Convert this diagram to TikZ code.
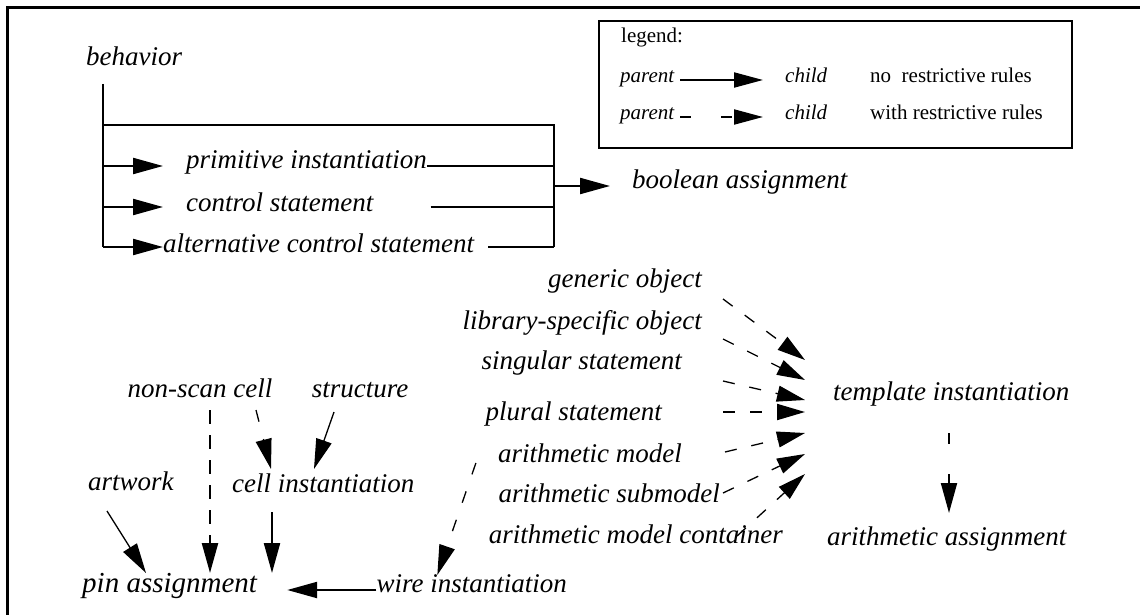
\documentclass[tikz,border=0pt]{standalone}
\usepackage{fontspec}
\setmainfont{Liberation Serif}
\usetikzlibrary{arrows.meta,calc}
\begin{document}
\begin{tikzpicture}[x=1pt,y=-1pt,
  lbl/.style={font=\fontsize{27}{30}\selectfont\itshape, inner sep=0pt},
  leg/.style={font=\fontsize{21}{24}\selectfont, inner sep=0pt},
  legi/.style={font=\fontsize{21}{24}\selectfont\itshape, inner sep=0pt},
  tri/.style={-{Triangle[length=30pt,width=16pt]}},
  ltri/.style={-{Triangle[length=29pt,width=15pt]}},
  bar/.style={line width=2.2pt},
  thinl/.style={line width=1.3pt},
  fan/.style={line width=1.3pt, dash pattern=on 12pt off 15pt, -{Triangle[length=28pt,width=16pt]}},
  sparse/.style={line width=2pt, dash pattern=on 11pt off 30pt},
  longdash/.style={line width=2.4pt, dash pattern=on 14pt off 11pt},
  thindash/.style={line width=1.3pt, dash pattern=on 12pt off 18pt},
]
\useasboundingbox (0,0) rectangle (1140,615);
\fill[white] (0,0) rectangle (1140,615);
% frame
\draw[line width=3.3pt] (7.5,615) -- (7.5,7.5) -- (1140,7.5);

% legend
\draw[line width=2pt] (599,21) rectangle (1072,148);
\node[leg, anchor=mid west] (legt) at (621,40) {legend:};
\node[legi, anchor=mid west] (p1) at (620,80) {parent};
\node[legi, anchor=mid west] (c1) at (785,80) {child};
\node[leg, anchor=mid west] (r1) at (870,80) {no\ \ restrictive rules};
\node[legi, anchor=mid west] (p2) at (620,117) {parent};
\node[legi, anchor=mid west] (c2) at (785,117) {child};
\node[leg, anchor=mid west] (r2) at (870,117) {with restrictive rules};
\draw[line width=2pt, ltri] ($(p1.mid east)+(6,0)$) -- ($(c1.mid west)+(-22,0)$);
\draw[sparse, ltri] ($(p2.mid east)+(6,0)$) -- ($(c2.mid west)+(-22,0)$);

% upper bracket
\node[lbl, anchor=mid west] (beh) at (86,63) {behavior};
\node[lbl, anchor=mid west] (prim) at (186,166) {primitive instantiation};
\node[lbl, anchor=mid west] (ctrl) at (186,209) {control statement};
\node[lbl, anchor=mid west] (alt) at (163,250) {alternative control statement};
\node[lbl, anchor=mid west] (bool) at (632,186) {boolean assignment};
\coordinate (jt) at (103,125);
\coordinate (j1) at (103,166);
\coordinate (j2) at (103,207);
\coordinate (j3) at (103,247);
\coordinate (rt) at (554,125);
\coordinate (rb) at (554,247);
\coordinate (rm) at (554,186);
\draw[bar] ($(beh.mid west)+(17,21)$) -- (j3);
\draw[bar] (jt) -- (rt) -- (rb);
\draw[bar, tri] (j1) -- ($(j1 -| prim.west)+(-23,0)$);
\draw[bar, tri] (j2) -- ($(j2 -| ctrl.west)+(-23,0)$);
\draw[bar, tri] (j3) -- (j3 -| alt.west);
\draw[bar] (j1 -| prim.east) -- (j1 -| rt);
\draw[bar] ($(j2 -| ctrl.east)+(57,0)$) -- (j2 -| rt);
\draw[bar] ($(j3 -| alt.east)+(14,0)$) -- (rb);
\draw[bar, tri] (rm) -- ($(rm -| bool.west)+(-22,0)$);

% fan into template instantiation
\node[lbl, anchor=mid west] (tmpl) at (833,398) {template instantiation};
\node[lbl, anchor=mid west] (aasg) at (827,543) {arithmetic assignment};
\node[lbl, anchor=mid east] (gen) at (702,285) {generic object};
\node[lbl, anchor=mid east] (lib) at (702,327) {library-specific object};
\node[lbl, anchor=mid east] (sing) at (682,367) {singular statement};
\node[lbl, anchor=mid east] (plur) at (662,418) {plural statement};
\node[lbl, anchor=mid east] (amod) at (682,460) {arithmetic model};
\node[lbl, anchor=mid east] (asub) at (720,500) {arithmetic submodel};
\node[lbl, anchor=mid east] (acont) at (783,541) {arithmetic model container};
\draw[fan] ($(gen.mid east)+(21,14)$) -- ($(tmpl.mid west)+(-28,-38)$);
\draw[fan] ($(lib.mid east)+(21,12)$) -- ($(tmpl.mid west)+(-28,-18)$);
\draw[fan] ($(sing.mid east)+(41,14)$) -- ($(tmpl.mid west)+(-28,2)$);
\draw[fan, line width=2pt] ($(plur.mid east)+(61,-6)$) -- ($(tmpl.mid west)+(-28,14)$);
\draw[fan] ($(amod.mid east)+(43,-8)$) -- ($(tmpl.mid west)+(-28,35)$);
\draw[fan] ($(asub.mid east)+(3,-7)$) -- ($(tmpl.mid west)+(-28,56)$);
\draw[fan] ($(acont.mid east)+(-46,-5)$) -- ($(tmpl.mid west)+(-28,76)$);
\draw[sparse, tri] ($(tmpl.mid west)+(116,35)$) -- ($(aasg.mid west)+(122,-30)$);

% lower left
\node[lbl, anchor=mid] (nsc) at (200,395) {non-scan cell};
\node[lbl, anchor=mid] (struc) at (360,395) {structure};
\node[lbl, anchor=mid west] (art) at (88,488) {artwork};
\node[lbl, anchor=mid west] (cell) at (232,490) {cell instantiation};
\node[lbl, anchor=mid west, font=\fontsize{29}{32}\selectfont\itshape] (pin) at (82,590) {pin assignment};
\node[lbl, anchor=mid east] (wire) at (567,590) {wire instantiation};
\draw[longdash, tri] ($(nsc.mid)+(10,15)$) -- ($(pin.mid west)+(128,-17)$);
\draw[thindash, tri] ($(nsc.mid)+(56,15)$) -- ($(cell.mid west)+(39,-21)$);
\draw[thinl, tri] ($(struc.mid)+(-26,17)$) -- ($(cell.mid west)+(82,-21)$);
\draw[bar, tri] ($(cell.mid west)+(40,22)$) -- ($(pin.mid west)+(190,-17)$);
\draw[thinl, tri] ($(art.mid west)+(19,23)$) -- ($(pin.mid west)+(64,-17)$);
\draw[bar, tri] (wire.mid west) -- ($(pin.mid east)+(30,0)$);
\draw[thindash, tri] ($(amod.mid west)+(-22,3)$) -- ($(wire.mid west)+(61,-15)$);
\end{tikzpicture}
\end{document}
